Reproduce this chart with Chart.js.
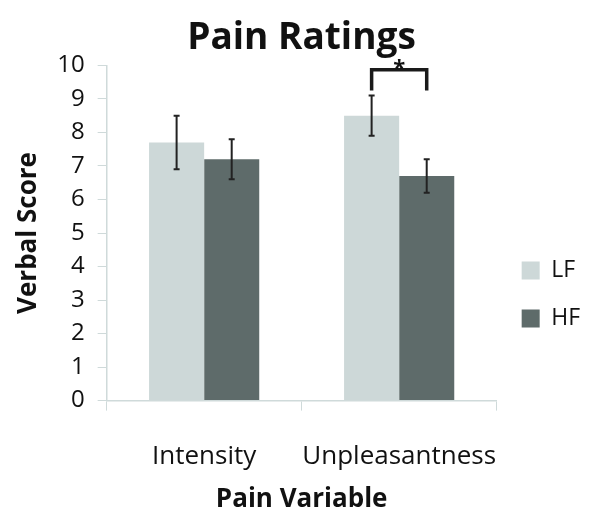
<!DOCTYPE html>
<html>
<head>
<meta charset="utf-8">
<script src="https://cdn.jsdelivr.net/npm/chart.js@4/dist/chart.umd.min.js"></script>
<style>
  html, body { margin: 0; padding: 0; background: #fff; }
  #wrap { width: 600px; height: 523px; }
</style>
</head>
<body>
<div id="wrap"><canvas id="painChart"></canvas></div>
<script>
// Data
const categories = ['Intensity', 'Unpleasantness'];
const lfValues = [7.7, 8.5];
const hfValues = [7.2, 6.7];
const lfErrors = [0.8, 0.6];
const hfErrors = [0.6, 0.5];
const yTicks = [0, 1, 2, 3, 4, 5, 6, 7, 8, 9, 10];

const FONT = "'Open Sans', sans-serif";
const axisColor = '#cfdada';

// Error bars + significance bracket
const errorBars = {
  id: 'errorBars',
  afterDatasetsDraw(chart) {
    const ctx = chart.ctx;
    const y = chart.scales.y;
    const errs = [lfErrors, hfErrors];
    ctx.save();
    ctx.strokeStyle = '#222';
    ctx.lineWidth = 2;
    chart.data.datasets.forEach((ds, di) => {
      chart.getDatasetMeta(di).data.forEach((bar, i) => {
        const top = y.getPixelForValue(ds.data[i] + errs[di][i]);
        const bot = y.getPixelForValue(ds.data[i] - errs[di][i]);
        ctx.beginPath();
        ctx.moveTo(bar.x, top); ctx.lineTo(bar.x, bot);
        ctx.moveTo(bar.x - 3, top); ctx.lineTo(bar.x + 3, top);
        ctx.moveTo(bar.x - 3, bot); ctx.lineTo(bar.x + 3, bot);
        ctx.stroke();
      });
    });

    // bracket over Unpleasantness
    const a = chart.getDatasetMeta(0).data[1];
    const b = chart.getDatasetMeta(1).data[1];
    const yTop = y.getPixelForValue(9.87);
    const yEnd = y.getPixelForValue(9.25);
    ctx.lineWidth = 3.5;
    ctx.strokeStyle = '#1a1a1a';
    ctx.beginPath();
    ctx.moveTo(a.x, yEnd); ctx.lineTo(a.x, yTop);
    ctx.lineTo(b.x, yTop); ctx.lineTo(b.x, yEnd);
    ctx.stroke();
    ctx.fillStyle = '#111';
    ctx.font = "bold 22px " + FONT;
    ctx.textAlign = 'center';
    ctx.textBaseline = 'middle';
    ctx.fillText('*', (a.x + b.x) / 2, yTop - 1);
    ctx.restore();
  }
};

new Chart(document.getElementById('painChart'), {
  type: 'bar',
  data: {
    labels: categories,
    datasets: [
      { label: 'LF', data: lfValues, backgroundColor: '#cdd8d8' },
      { label: 'HF', data: hfValues, backgroundColor: '#5e6b6a' }
    ]
  },
  options: {
    responsive: true,
    maintainAspectRatio: false,
    animation: false,
    layout: { padding: { left: 13, right: 10, top: 16, bottom: 4 } },
    datasets: { bar: { categoryPercentage: 0.565, barPercentage: 1.0 } },
    plugins: {
      title: {
        display: true,
        text: 'Pain Ratings',
        color: '#111',
        font: { family: FONT, size: 37, weight: 'bold' },
        padding: { top: 0, bottom: 5 }
      },
      legend: {
        position: 'right',
        title: { display: true, text: '', font: { size: 1 }, padding: { top: 26, bottom: 27 } },
        labels: {
          color: '#111',
          font: { family: FONT, size: 23 },
          boxWidth: 18,
          boxHeight: 18,
          padding: 25
        }
      },
      tooltip: { enabled: false }
    },
    scales: {
      y: {
        min: 0,
        max: 10,
        afterBuildTicks(scale) { scale.ticks = yTicks.map(v => ({ value: v })); },
        border: { color: axisColor, width: 1.5 },
        grid: { drawOnChartArea: false, color: axisColor, tickLength: 9 },
        ticks: { color: '#111', font: { family: FONT, size: 24 }, padding: 13, autoSkip: false },
        title: {
          display: true,
          text: 'Verbal Score',
          color: '#111',
          font: { family: FONT, size: 26, weight: 'bold' },
          padding: { top: 0, bottom: 0 }
        }
      },
      x: {
        border: { color: axisColor, width: 1.5 },
        grid: { drawOnChartArea: false, color: axisColor, tickLength: 10, offset: true },
        ticks: { color: '#111', font: { family: FONT, size: 26 }, padding: 30, autoSkip: false, maxRotation: 0, minRotation: 0 },
        title: {
          display: true,
          text: 'Pain Variable',
          color: '#111',
          font: { family: FONT, size: 26, weight: 'bold' },
          padding: { top: -18, bottom: 4 }
        }
      }
    }
  },
  plugins: [errorBars]
});
</script>
</body>
</html>
